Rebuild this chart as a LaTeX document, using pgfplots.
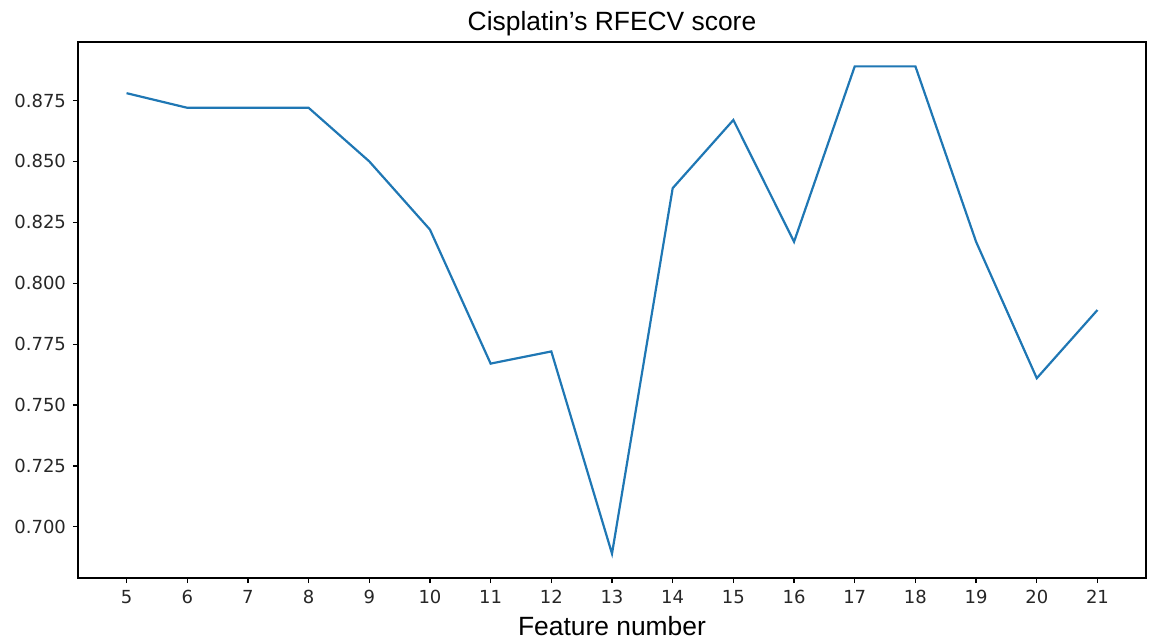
\documentclass[border=0pt]{standalone}
\usepackage{fontspec}
\setmainfont{Liberation Sans}
\newfontfamily\dejavu{DejaVu Sans}
\usepackage{pgfplots}
\pgfplotsset{compat=1.18}
\definecolor{mplblue}{RGB}{31,119,180}
\begin{document}
\begin{tikzpicture}
\begin{axis}[
  name=ax,
  scale only axis,
  width=534pt, height=268pt,
  xmin=4.2, xmax=21.8,
  ymin=0.679, ymax=0.899,
  xtick={5,...,21},
  ytick={0.700,0.725,0.750,0.775,0.800,0.825,0.850,0.875},
  tick align=outside,
  tick pos=left,
  major tick length=2.5pt,
  axis line style={line width=0.6pt},
  every tick/.style={line width=0.6pt, black},
  /pgf/number format/assume math mode=true,
  yticklabel style={/pgf/number format/.cd, fixed, fixed zerofill, precision=3},
  scaled y ticks=false,
  ticklabel style={font=\dejavu\fontsize{9}{10}\selectfont, text=black!85},
  title={Cisplatin’s RFECV score},
  title style={at={(0.5,1)}, anchor=base, inner sep=0pt, yshift=0pt, font=\fontsize{13.2}{15}\selectfont},
  xlabel={Feature number},
  xlabel style={at={(0.5,0)}, anchor=base, inner sep=0pt, yshift=-28.5pt, font=\fontsize{13.2}{15}\selectfont},
]
\addplot[mplblue, line width=1.1pt, mark=none] coordinates {
(5,0.878) (6,0.872) (7,0.872) (8,0.872) (9,0.850) (10,0.822) (11,0.767)
(12,0.772) (13,0.689) (14,0.839) (15,0.867) (16,0.817) (17,0.889)
(18,0.889) (19,0.817) (20,0.761) (21,0.789)
};
\end{axis}
\path ([shift={(-39pt,-30pt)}]ax.south west) rectangle ([shift={(3pt,21pt)}]ax.north east);
\end{tikzpicture}
\end{document}
